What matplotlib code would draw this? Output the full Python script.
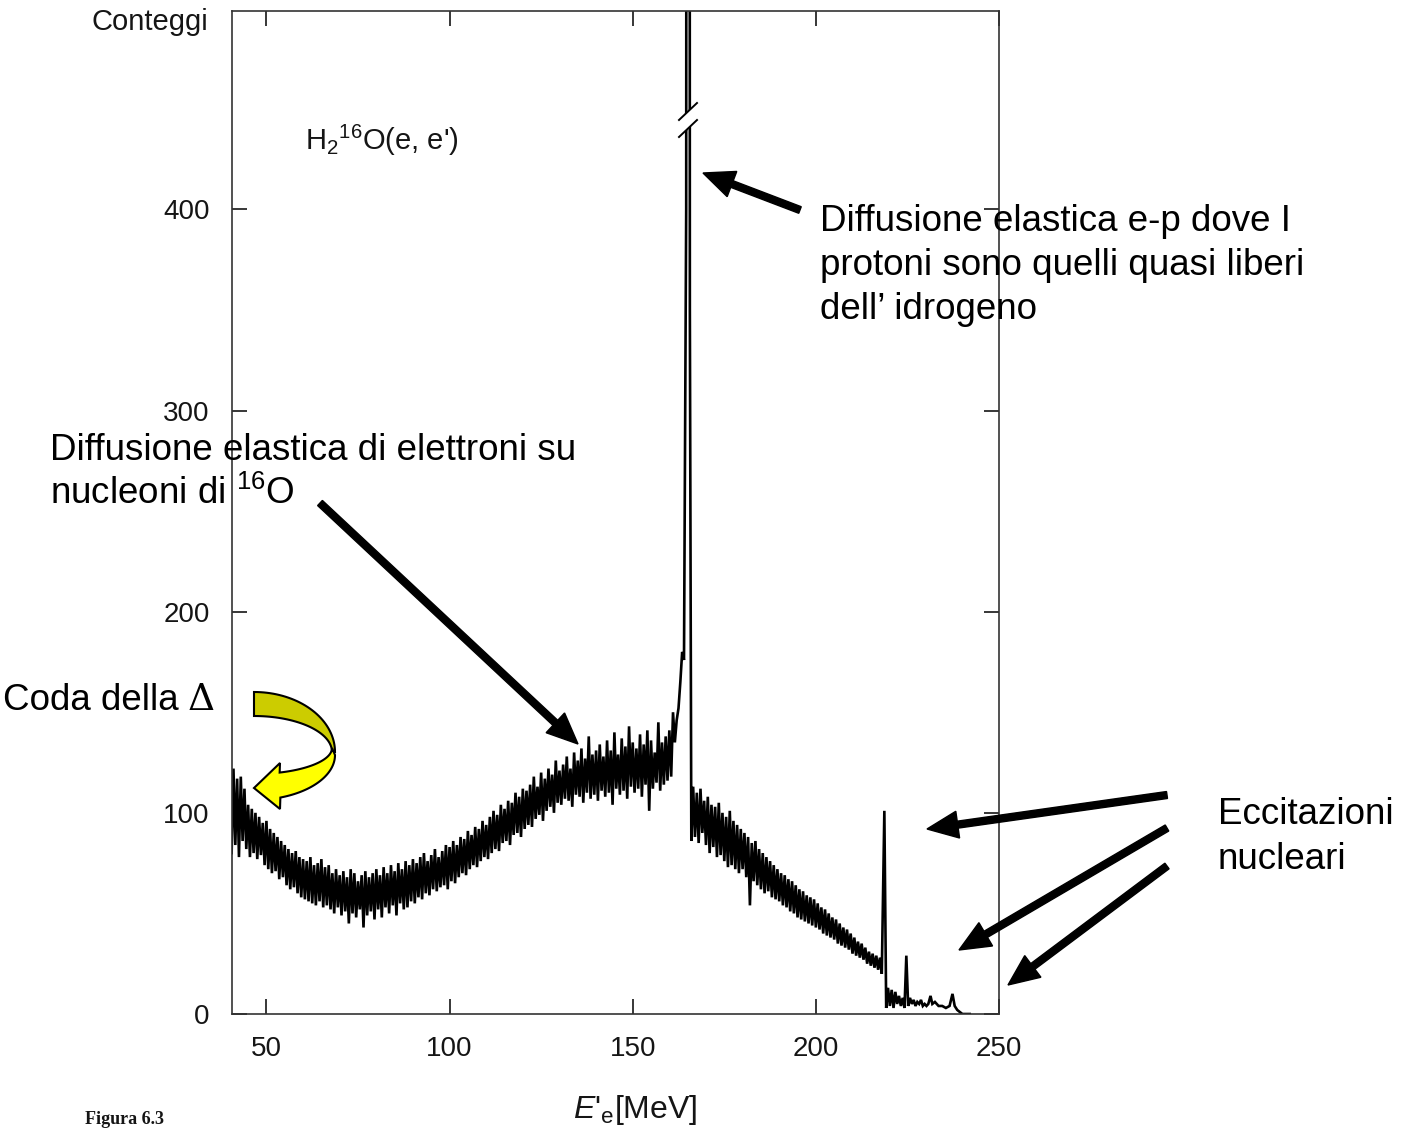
import numpy as np
import matplotlib.pyplot as plt
from matplotlib.patches import Polygon, FancyArrow

plt.rcParams['mathtext.fontset'] = 'custom'
plt.rcParams['mathtext.rm'] = 'Liberation Sans'
plt.rcParams['mathtext.it'] = 'Liberation Sans:italic'

W, H = 1409, 1129

# --- spectrum (counts) -----------------------------------------------------
# rising part, 40.5 - 161.5 MeV: spike tops at integer MeV, troughs at .5 MeV
tops_a = [122, 117, 118, 112, 104, 102, 100, 98, 95, 96,
          92, 90, 88, 86, 84, 82, 80, 81, 78, 77,
          76, 78, 74, 75, 77, 73, 74, 70, 72, 69,
          71, 68, 72, 70, 66, 69, 71, 68, 70, 72,
          69, 73, 70, 74, 71, 75, 72, 76, 74, 77,
          75, 78, 80, 76, 79, 82, 78, 81, 84, 83,
          86, 84, 88, 87, 91, 89, 93, 92, 96, 94,
          98, 101, 99, 104, 102, 106, 105, 110, 108, 112,
          111, 114, 118, 113, 120, 117, 122, 119, 126, 121,
          124, 128, 122, 130, 126, 132, 127, 138, 129, 131,
          134, 128, 136, 131, 140, 129, 137, 133, 143, 135,
          132, 139, 134, 141, 136, 130, 145, 135, 138, 141, 150]
bottoms_a = [80, 84, 78, 86, 82, 78, 80, 77, 79, 74,
             72, 70, 71, 67, 68, 64, 62, 63, 60, 58,
             57, 56, 55, 54, 56, 53, 54, 52, 50, 53,
             49, 51, 45, 50, 48, 52, 43, 49, 51, 47,
             52, 48, 53, 50, 54, 49, 55, 52, 53, 56,
             55, 58, 57, 60, 59, 62, 61, 63, 64, 62,
             66, 65, 68, 70, 69, 72, 74, 73, 76, 78,
             77, 80, 82, 81, 85, 86, 84, 89, 90, 88,
             92, 94, 93, 97, 99, 96, 101, 103, 100, 105,
             104, 107, 106, 103, 109, 108, 105, 110, 107, 109,
             106, 111, 108, 110, 104, 112, 109, 111, 107, 113,
             110, 112, 108, 114, 101, 112, 115, 111, 114, 116, 118, 135]

# e-p elastic peak (top is far off scale)
peak_e = [162.0, 162.5, 163.0, 163.5, 164.0, 164.6, 165.2, 165.6, 166.0]
peak_c = [146, 152, 165, 180, 176, 400, 3000, 350, 86]

# falling part, 166.5 - 218 MeV: tops at .5 MeV, troughs at integer MeV
tops_b = [113, 110, 112, 106, 108, 104, 103, 105, 100, 98,
          101, 96, 94, 92, 90, 88, 85, 86, 82, 80,
          78, 76, 74, 72, 70, 69, 67, 66, 64, 62,
          61, 59, 58, 57, 55, 53, 52, 50, 48, 47,
          45, 43, 42, 40, 38, 36, 35, 33, 31, 30,
          29, 28]
bottoms_b = [88, 85, 90, 84, 80, 83, 78, 79, 76, 73,
             74, 72, 70, 72, 68, 54, 66, 64, 62, 60,
             61, 58, 57, 56, 54, 53, 51, 50, 48, 47,
             46, 45, 44, 43, 42, 40, 39, 38, 37, 35,
             34, 33, 32, 30, 29, 28, 27, 25, 24, 23,
             22, 20]

# nuclear excitation region
tail_e = [218.7, 219.2, 219.7, 220.2, 220.7, 221.2, 221.7, 222.2, 222.7, 223.2,
          223.7, 224.2, 224.7, 225.2, 225.7, 226.2, 226.7, 227.2, 227.7, 228.2,
          228.7, 229.2, 229.7, 230.2, 230.7, 231.3, 231.8, 232.5, 233.5, 234.5,
          235.5, 236.5, 237.3, 237.9, 238.6, 239.3, 240.0, 241.0, 242.0]
tail_c = [101, 3, 13, 4, 12, 3, 11, 5, 9, 4,
          8, 3, 29, 4, 8, 5, 7, 4, 6, 5,
          7, 4, 5, 4, 5, 9, 5, 6, 4, 4,
          3, 4, 10, 4, 2, 1, 0, 0, 0]

x_ticks = [50, 100, 150, 200, 250]
y_ticks = [0, 100, 200, 300, 400]


def interleave(first, second):
    out = []
    for i in range(max(len(first), len(second))):
        if i < len(first):
            out.append(first[i])
        if i < len(second):
            out.append(second[i])
    return out


counts_a = interleave(bottoms_a, tops_a)
energy_a = 40.5 + 0.5 * np.arange(len(counts_a))
counts_b = interleave(tops_b, bottoms_b)
energy_b = 166.5 + 0.5 * np.arange(len(counts_b))

energy = np.concatenate([energy_a, peak_e, energy_b, tail_e])
counts = np.concatenate([counts_a, peak_c, counts_b, tail_c])

ink = '#151515'

# ---------------------------------------------------------------------------
fig = plt.figure(figsize=(W / 100, H / 100), dpi=100)
ax = fig.add_axes([232 / W, 1 - 1014 / H, 767 / W, 1003 / H])
ax.plot(energy, counts, color='black', lw=1.9, solid_joinstyle='miter')
ax.set_xlim(40.6, 250.0)
ax.set_ylim(0, 498.6)
ax.set_xticks(x_ticks)
ax.set_yticks(y_ticks)
ax.tick_params(direction='in', length=10.8, width=1.2, top=True, right=True,
               labelsize=20, pad=16, colors=ink)
for lab in ax.get_xticklabels() + ax.get_yticklabels():
    lab.set_fontfamily('Liberation Sans')
for sp in ax.spines.values():
    sp.set_linewidth(1.2)
    sp.set_color('#333333')

# overlay in pixel coordinates for the annotations
ov = fig.add_axes([0, 0, 1, 1], zorder=5)
ov.set_xlim(0, W)
ov.set_ylim(H, 0)
ov.axis('off')
ov.patch.set_alpha(0)

# axis break marks on the peak
ov.add_patch(Polygon([(679, 120), (697, 103), (697, 120), (679, 137)],
                     closed=True, facecolor='white', edgecolor='none'))
ov.plot([679, 697], [120, 103], color='black', lw=1.4)
ov.plot([679, 697], [137, 120], color='black', lw=1.4)

ov.text(208, 30, 'Conteggi', ha='right', va='baseline', fontsize=21,
        family='Liberation Sans', color=ink)
ov.text(305, 150, "H$_2{}^{16}$O(e, e')", ha='left', va='baseline',
        fontsize=21, family='Liberation Sans', color=ink)
ov.text(573, 1118, r"$E$'$_\mathrm{e}$[MeV]", ha='left', va='baseline',
        fontsize=23, family='Liberation Sans', color=ink)
ov.text(85, 1128, 'Figura 6.3', ha='left', va='bottom', fontsize=13,
        family='Liberation Serif', weight='bold', color=ink)

big = dict(fontsize=26.5, family='Liberation Sans', color='black',
           ha='left', va='baseline')
ov.text(820, 231, 'Diffusione elastica e-p dove I', **big)
ov.text(820, 275, 'protoni sono quelli quasi liberi', **big)
ov.text(820, 319, "dell\u2019 idrogeno", **big)
ov.text(50, 460, 'Diffusione elastica di elettroni su', **big)
ov.text(50, 504, 'nucleoni di $^{16}$O', **big)
ov.text(3, 710, 'Coda della', **big)
ov.text(188, 710, '\u0394', fontsize=27, family='DejaVu Serif', color='black',
        ha='left', va='baseline')
ov.text(1218, 824, 'Eccitazioni', **big)
ov.text(1218, 869, 'nucleari', **big)

# black arrows (tail -> tip)
arrows = [((800, 210), (703, 173)),
          ((320, 503), (578, 744)),
          ((1167, 795), (927, 829)),
          ((1167, 828), (959, 950)),
          ((1167, 866), (1008, 985))]
for (x0, y0), (x1, y1) in arrows:
    ov.add_patch(FancyArrow(x0, y0, x1 - x0, y1 - y0, width=7, head_width=27,
                            head_length=31, length_includes_head=True,
                            color='black'))

# yellow curved arrow ("Coda della Delta")
cx, cy = 254, 752
th = np.radians(np.linspace(90, 0, 40))
outer = np.column_stack([cx + 81 * np.cos(th), cy - 60 * np.sin(th)])
inner = np.column_stack([cx + 78 * np.cos(th[::-1]), cy - 36 * np.sin(th[::-1])])
ov.add_patch(Polygon(np.vstack([outer, inner]), closed=True,
                     facecolor='#cccc00', edgecolor='black', lw=1.5))

th_i = np.radians(np.linspace(0, -70.8, 40))
up_edge = np.column_stack([cx + 78 * np.cos(th_i), 748 - 26 * np.sin(th_i)])
th_o = np.radians(np.linspace(-71, 0, 40))
low_edge = np.column_stack([cx + 81 * np.cos(th_o), 755 - 45 * np.sin(th_o)])
head = np.array([(280, 763), (254, 788), (280, 809)])
ov.add_patch(Polygon(np.vstack([up_edge, head, low_edge]), closed=True,
                     facecolor='#ffff00', edgecolor='black', lw=1.5))

fig.savefig('out.png', dpi=100)
